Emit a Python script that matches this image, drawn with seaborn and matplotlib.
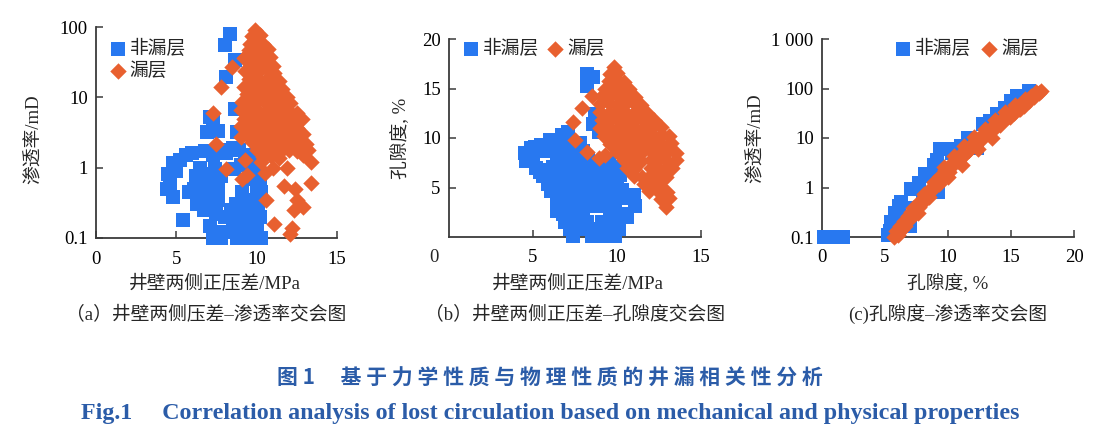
import matplotlib
matplotlib.use("Agg")
import matplotlib.pyplot as plt
import seaborn as sns

# ---------------- data ----------------
# (a) pressure difference (MPa) vs permeability (mD)
a_non_x = [8.0, 8.35, 8.65, 8.1, 8.65, 7.1, 6.9, 7.6, 8.75, 7.3, 4.8, 4.6, 4.8, 5.4, 5.2, 6.0,
           6.5, 6.2, 6.5, 5.8, 6.8, 7.3, 7.7, 8.1, 8.5, 8.9, 9.3, 9.6, 9.9, 10.2, 6.9, 7.4, 7.8,
           8.6, 9.0, 9.5, 10.0, 6.8, 7.2, 7.6, 7.6, 8.7, 9.1, 9.6, 10.1, 6.7, 7.1, 7.5, 8.0, 8.5,
           9.0, 9.5, 10.2, 7.1, 7.4, 7.8, 8.3, 8.8, 9.2, 9.6, 10.0, 10.3, 7.3, 8.6, 9.4, 4.5, 4.4,
           6.1, 6.3, 6.6, 7.0, 5.6, 5.0, 9.8, 10.3, 9.2, 8.4]
a_non_y = [55, 80, 34, 19.5, 6.9, 5.3, 3.2, 3.3, 3.2, 4.4, 1.15, 0.6, 0.38, 0.18, 1.3, 1.6,
           1.0, 0.75, 0.38, 0.45, 1.7, 1.5, 1.8, 1.6, 1.9, 1.8, 1.5, 1.2, 0.9, 0.7, 0.8, 0.95, 0.75,
           0.95, 1.1, 0.7, 0.5, 0.5, 0.45, 0.35, 0.55, 0.3, 0.45, 0.35, 0.3, 0.25, 0.3, 0.22, 0.2, 0.18,
           0.22, 0.2, 0.2, 0.15, 0.12, 0.1, 0.12, 0.1, 0.13, 0.1, 0.14, 0.1, 0.1, 0.15, 0.16, 0.8, 0.5,
           0.5, 0.3, 0.62, 0.62, 1.5, 0.9, 1.4, 0.45, 0.28, 0.25]
a_leak_x = [9.9, 9.7, 10.2, 9.6, 10.1, 10.4, 9.5, 9.9, 10.4, 10.7, 9.3, 9.9, 10.3, 10.8,
            9.6, 10.1, 10.6, 11.0, 9.3, 9.8, 10.3, 10.8, 11.1, 9.5, 10.0, 10.5, 11.0, 11.4,
            9.2, 9.7, 10.2, 10.7, 11.2, 11.6, 9.4, 9.9, 10.4, 10.9, 11.4, 11.9,
            9.1, 9.6, 10.1, 10.6, 11.1, 11.6, 12.1, 9.0, 9.5, 10.0, 10.5, 11.0, 11.5, 12.0, 12.5,
            9.2, 9.7, 10.2, 10.7, 11.2, 11.7, 12.2, 12.8, 9.0, 9.5, 10.0, 10.5, 11.0, 11.5, 12.0, 12.5,
            9.4, 9.9, 10.4, 10.9, 11.4, 11.9, 12.4, 12.9, 9.7, 10.2, 10.7, 11.2, 11.7, 12.2, 12.7, 13.1,
            10.0, 10.5, 11.0, 11.5, 12.0, 12.5, 10.4, 10.9, 11.4,
            8.45, 7.8, 7.3, 7.5, 8.1, 9.3, 9.1, 9.4, 9.0, 10.5, 10.6, 11.1, 12.1, 12.2, 12.3, 12.9,
            11.7, 12.4, 13.4, 13.4, 12.9, 11.9, 11.0, 10.3, 12.5, 9.2, 13.2]
a_leak_y = [90, 74, 78, 58, 62, 57, 47, 50, 46, 49, 37, 39, 36, 38,
            30, 29, 31, 28, 24, 23, 25, 23, 22, 18, 19, 17, 18, 17,
            14, 13.5, 14.5, 13, 14, 13, 11, 10.5, 11.5, 10.5, 11, 10,
            8.5, 8.2, 8.8, 8.3, 8.6, 8.0, 8.2, 6.5, 6.3, 6.7, 6.2, 6.6, 6.4, 6.3, 6.0,
            5.0, 5.2, 4.9, 5.1, 4.8, 5.0, 5.1, 4.9, 3.9, 3.8, 4.0, 3.7, 3.9, 3.8, 4.0, 3.7,
            3.0, 3.1, 2.9, 3.0, 3.1, 2.9, 3.0, 3.0, 2.3, 2.4, 2.2, 2.3, 2.4, 2.2, 2.3, 2.2,
            1.8, 1.75, 1.85, 1.7, 1.8, 1.75, 1.4, 1.45, 1.35,
            27, 14, 6, 2.2, 0.95, 1.3, 0.7, 0.78, 2.7, 0.85, 0.35, 0.16, 0.115, 0.14, 0.25, 0.28,
            0.55, 0.5, 0.6, 1.2, 1.5, 1.0, 1.0, 1.2, 0.35, 36, 1.8]

# (b) pressure difference (MPa) vs porosity (%)
b_non_x = [8.2, 8.6, 8.2, 8.7, 8.6, 8.9, 4.5, 4.6, 5.1, 5.5, 5.2, 5.6, 5.9, 6.0, 6.7, 7.1, 6.3,
           6.6, 7.2, 7.8, 6.8, 7.4, 8.0, 6.4, 7.0, 7.6, 8.3, 9.5,
           6.2, 6.8, 7.4, 8.0, 8.6, 9.2, 9.9, 6.5, 7.1, 7.7, 8.4, 9.0, 9.6, 10.2,
           6.3, 6.9, 7.5, 8.1, 8.8, 9.4, 10.0, 6.2, 6.8, 7.4, 8.0, 8.6, 9.2, 9.8, 10.3,
           6.4, 7.0, 7.6, 8.2, 8.9, 9.5, 10.1, 10.9, 6.6, 7.2, 7.8, 8.4, 9.2, 9.9, 11.1,
           6.8, 7.4, 8.0, 9.6, 10.3, 6.9, 7.6, 8.2, 9.1, 9.8, 7.2, 7.9, 8.8, 9.5, 10.1,
           7.4, 8.5, 9.2, 9.9, 11.0,
           4.9, 5.7, 5.4, 5.9, 6.1, 5.0, 6.4, 10.6]
b_non_y = [16.5, 16.2, 15.3, 12.4, 11.4, 10.6, 8.5, 7.7, 9.1, 9.3, 7.0, 6.2, 5.4, 9.8, 10.3, 10.6, 8.8,
           9.5, 9.5, 9.5, 8.7, 8.7, 8.7, 7.9, 7.9, 7.9, 7.9, 7.9,
           7.1, 7.1, 7.1, 7.1, 7.1, 7.1, 7.1, 6.3, 6.3, 6.3, 6.3, 6.3, 6.3, 6.3,
           5.5, 5.5, 5.5, 5.5, 5.5, 5.5, 5.5, 4.7, 4.7, 4.7, 4.7, 4.7, 4.7, 4.7, 4.7,
           3.9, 3.9, 3.9, 3.9, 3.9, 3.9, 3.9, 3.9, 3.1, 3.1, 3.1, 3.1, 3.1, 3.1, 3.1,
           2.3, 2.3, 2.3, 2.3, 2.3, 1.5, 1.5, 1.5, 1.5, 1.5, 0.8, 0.8, 0.8, 0.8, 0.8,
           0.15, 0.15, 0.15, 0.15, 4.2,
           9.0, 8.7, 6.6, 6.8, 4.6, 8.2, 2.6, 2.0]
b_leak_x = [9.8, 9.6, 10.0, 9.5, 10.0, 10.4, 9.3, 9.8, 10.3, 10.7, 9.1, 9.6, 10.1, 10.6, 11.1,
            9.0, 9.5, 10.0, 10.5, 11.0, 11.4, 9.0, 9.5, 10.0, 10.5, 11.0, 11.5, 11.8,
            9.1, 9.6, 10.1, 10.6, 11.1, 11.6, 12.2, 9.0, 9.5, 10.0, 10.5, 11.0, 11.5, 12.0, 12.6,
            9.2, 9.7, 10.2, 10.7, 11.2, 11.7, 12.2, 12.7, 13.1, 9.6, 10.1, 10.6, 11.1, 11.6, 12.1, 12.6, 13.2,
            10.0, 10.5, 11.0, 11.5, 12.0, 12.5, 13.0, 13.5, 10.4, 10.9, 11.4, 12.0, 12.5, 13.0, 13.5,
            10.6, 11.0, 12.0, 12.4, 12.9, 13.3, 11.0, 11.5, 12.0, 12.5, 12.9, 11.6, 12.1, 12.5,
            11.9, 12.4, 13.0, 12.6, 13.1, 12.9,
            8.5, 7.9, 7.4, 7.5, 8.2, 8.9, 9.3]
b_leak_y = [17.2, 16.5, 16.6, 15.8, 15.9, 15.7, 15.0, 15.1, 14.9, 15.0, 14.2, 14.3, 14.1, 14.2, 14.1,
            13.4, 13.5, 13.3, 13.4, 13.5, 13.3, 12.6, 12.5, 12.7, 12.6, 12.5, 12.7, 12.5,
            11.8, 11.9, 11.7, 11.8, 11.9, 11.7, 11.8, 11.0, 11.1, 10.9, 11.0, 11.1, 10.9, 11.0, 11.1,
            10.2, 10.3, 10.1, 10.2, 10.3, 10.1, 10.2, 10.3, 10.2, 9.4, 9.5, 9.3, 9.4, 9.5, 9.3, 9.4, 9.5,
            8.6, 8.7, 8.5, 8.6, 8.7, 8.5, 8.6, 8.5, 7.8, 7.9, 7.7, 7.8, 7.9, 7.7, 7.8,
            7.0, 6.9, 7.0, 7.1, 6.9, 7.0, 6.2, 6.1, 6.3, 6.2, 6.1, 5.4, 5.5, 5.3,
            4.6, 4.7, 4.5, 3.8, 3.9, 3.0,
            14.2, 13.0, 11.6, 9.8, 8.6, 8.0, 8.3]

# (c) porosity (%) vs permeability (mD)
c_non_x = [0.15, 0.6, 1.1, 1.65, 5.2, 5.4, 5.5, 5.8, 6.1, 6.3, 6.0, 6.6, 7.0, 7.1, 7.4, 7.7,
           8.2, 8.4, 8.0, 8.9, 9.1, 9.2, 9.4, 9.5, 10.0, 10.3, 11.0, 11.6, 12.3, 12.8, 13.3,
           13.9, 14.5, 15.0, 15.5, 16.0, 16.4]
c_non_y = [0.1, 0.1, 0.1, 0.1, 0.11, 0.13, 0.2, 0.3, 0.42, 0.5, 0.18, 0.25, 0.17, 0.95, 0.38, 1.25,
           1.9, 1.7, 0.7, 2.8, 3.6, 0.83, 6.0, 2.0, 6.0, 5.0, 7.0, 10, 6.2, 19, 22,
           30, 40, 55, 70, 68, 88]
c_leak_x = [5.7, 5.9, 6.0, 6.2, 6.3, 6.5, 6.6, 6.8, 7.0, 7.1, 7.3, 7.5, 7.7, 7.8, 8.0, 8.2, 8.4,
            8.6, 8.8, 9.0, 9.2, 9.4, 9.6, 9.8, 10.0, 10.2, 10.4, 10.6, 10.8, 11.0, 11.2, 11.4,
            11.6, 11.8, 12.0, 12.2, 12.4, 12.6, 12.8, 13.0, 13.2, 13.4, 13.6, 13.8, 14.0, 14.2,
            14.4, 14.6, 14.8, 15.0, 15.2, 15.4, 15.6, 15.8, 16.0, 16.2, 16.4, 16.6, 16.8, 17.0,
            17.2, 17.4, 11.1, 13.5, 12.4, 10.0,
            7.2, 8.1, 8.9, 9.7, 10.5, 11.3, 12.1, 12.9, 13.7, 14.5, 15.3, 16.1,
            7.6, 8.5, 9.3, 10.1, 10.9, 11.7, 12.5, 13.3, 14.1, 14.9, 15.7]
c_leak_y = [0.1, 0.13, 0.11, 0.17, 0.14, 0.21, 0.17, 0.26, 0.23, 0.32, 0.3, 0.42, 0.4, 0.53, 0.5,
            0.7, 0.68, 0.92, 0.92, 1.25, 1.25, 1.7, 1.65, 2.3, 2.2, 3.0, 2.8, 3.8, 3.5, 4.7, 4.4,
            5.8, 5.4, 7.2, 6.8, 9.0, 8.5, 11.2, 10.5, 13.5, 12.5, 16, 15, 19.5, 18, 23.5, 22, 28,
            26.5, 34, 32, 40, 38, 48, 45, 57, 56, 70, 68, 84, 82, 90, 2.8, 10, 6.0, 1.6,
            0.38, 0.75, 1.3, 2.6, 4.4, 6.8, 10.5, 15.5, 23, 33, 46, 62,
            0.3, 0.65, 1.15, 2.1, 3.6, 5.6, 8.5, 12.5, 18, 26, 38]

labels = ["非漏层", "漏层"]
x_ticks_a = [0, 5, 10, 15]
y_ticks_a = [0.1, 1, 10, 100]
y_ticklabels_a = ["0.1", "1", "10", "100"]
x_ticks_b = [5, 10, 15]
y_ticks_b = [5, 10, 15, 20]
x_ticks_c = [0, 5, 10, 15, 20]
y_ticks_c = [0.1, 1, 10, 100, 1000]
y_ticklabels_c = ["0.1", "1", "10", "100", "1 000"]

# ---------------- style ----------------
sns.set_theme(style="ticks")
plt.rcParams["font.family"] = ["Liberation Serif", "Noto Sans CJK SC", "DejaVu Sans"]
BLUE = "#2878F0"
ORANGE = "#E8602F"
CAP = "#2B5CA8"
SPINE = "#3a3a3a"
FS = 13.5

W, H = 1107, 441
fig = plt.figure(figsize=(W / 100, H / 100), dpi=100)


def fx(px):
    return px / W


def fy(py):
    return 1 - py / H


def make_ax(l, r, t, b):
    return fig.add_axes([fx(l), fy(b), fx(r) - fx(l), fy(t) - fy(b)])


axA = make_ax(96, 337, 27, 238)
axB = make_ax(449, 701, 39, 237)
axC = make_ax(822, 1074, 39, 237)


def draw(ax, x0, y0, x1, y1):
    sns.scatterplot(x=x0, y=y0, marker="s", s=105, color=BLUE, linewidth=0,
                    clip_on=False, ax=ax, label=labels[0], zorder=3)
    sns.scatterplot(x=x1, y=y1, marker="D", s=70, color=ORANGE, linewidth=0,
                    clip_on=False, ax=ax, label=labels[1], zorder=4)
    sns.despine(ax=ax)
    for sp in ("left", "bottom"):
        ax.spines[sp].set_color(SPINE)
        ax.spines[sp].set_linewidth(1.3)
    ax.tick_params(direction="in", length=5, width=1.1, color=SPINE,
                   labelsize=FS, labelcolor="black")
    ax.tick_params(axis="x", pad=9)
    ax.tick_params(axis="y", pad=6)
    ax.set_xlabel("")
    ax.set_ylabel("")


draw(axA, a_non_x, a_non_y, a_leak_x, a_leak_y)
axA.set_yscale("log")
axA.set_xlim(0, 15)
axA.set_ylim(0.1, 100)
axA.set_xticks(x_ticks_a)
axA.set_yticks(y_ticks_a, labels=y_ticklabels_a)
axA.minorticks_off()

draw(axB, b_non_x, b_non_y, b_leak_x, b_leak_y)
axB.set_xlim(0, 15)
axB.set_ylim(0, 20)
axB.set_xticks(x_ticks_b)
axB.set_yticks(y_ticks_b)

draw(axC, c_non_x, c_non_y, c_leak_x, c_leak_y)
axC.set_yscale("log")
axC.set_xlim(0, 20)
axC.set_ylim(0.1, 1000)
axC.set_xticks(x_ticks_c)
axC.set_yticks(y_ticks_c, labels=y_ticklabels_c)
axC.minorticks_off()

leg_kw = dict(frameon=False, borderpad=0, borderaxespad=0, handlelength=0.7,
              handletextpad=0.3, fontsize=FS, scatterpoints=1,
              bbox_transform=fig.transFigure, loc="upper left")
axA.legend(bbox_to_anchor=(fx(111), fy(40)), ncol=1, labelspacing=0.2, **leg_kw)
axB.legend(bbox_to_anchor=(fx(464), fy(40)), ncol=2, columnspacing=0.5, **leg_kw)
axC.legend(bbox_to_anchor=(fx(896), fy(40)), ncol=2, columnspacing=0.6, **leg_kw)

# corner zero of panel (b)
fig.text(fx(434), fy(257), "0", ha="center", va="center", fontsize=FS)

# axis labels
fig.text(fx(43), fy(139), "渗透率/mD", rotation=90, ha="right", va="center", fontsize=FS)
fig.text(fx(410), fy(138), "孔隙度, %", rotation=90, ha="right", va="center", fontsize=FS)
fig.text(fx(765), fy(138), "渗透率/mD", rotation=90, ha="right", va="center", fontsize=FS)
fig.text(fx(215), fy(284), "井壁两侧正压差/MPa", ha="center", va="center", fontsize=FS)
fig.text(fx(578), fy(284), "井壁两侧正压差/MPa", ha="center", va="center", fontsize=FS)
fig.text(fx(948), fy(284), "孔隙度, %", ha="center", va="center", fontsize=FS)

# sub captions
fig.text(fx(206), fy(315), "（a）井壁两侧压差–渗透率交会图", ha="center", va="center", fontsize=FS)
fig.text(fx(575), fy(315), "（b）井壁两侧正压差–孔隙度交会图", ha="center", va="center", fontsize=FS)
fig.text(fx(948), fy(315), "(c)孔隙度–渗透率交会图", ha="center", va="center", fontsize=FS)

# figure caption
fig.text(fx(550), fy(378), "图 1\u3000 基 于 力 学 性 质 与 物 理 性 质 的 井 漏 相 关 性 分 析",
         ha="center", va="center", fontsize=15, color=CAP, fontweight="bold",
         family=["Noto Sans CJK SC", "DejaVu Sans"])
fig.text(fx(550), fy(413),
         "Fig.1     Correlation analysis of lost circulation based on mechanical and physical properties",
         ha="center", va="center", fontsize=17.3, color=CAP, fontweight="bold",
         family=["Liberation Serif"])

fig.savefig("out.png", dpi=100)
